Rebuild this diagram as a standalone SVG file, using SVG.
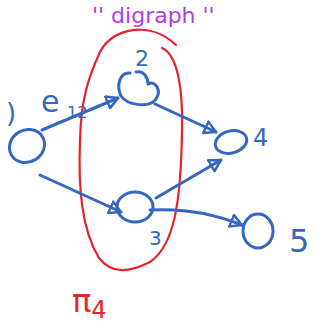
<svg xmlns="http://www.w3.org/2000/svg" width="327" height="328" viewBox="0 0 327 328">
<style>
.n{fill:none;stroke:#3566c2;stroke-width:3;stroke-linecap:round;stroke-linejoin:round}
.e{fill:none;stroke:#3566c2;stroke-width:3;stroke-linecap:round;marker-end:url(#ah)}
.b{fill:#3566c2;font-family:"DejaVu Sans",sans-serif}
</style>
<defs>
<marker id="ah" viewBox="0 0 12 12" refX="10" refY="6" markerWidth="5" markerHeight="5" orient="auto" markerUnits="strokeWidth">
<path d="M1,1 L10,6 L1,11 Z" fill="none" stroke="#3566c2" stroke-width="2" stroke-linejoin="round"/>
</marker>
</defs>
<rect width="327" height="328" fill="#fff"/>
<path d="M176,45 C150,20 112,28 100,52 C88,78 81,100 80,140 C78,190 82,230 99,258 C112,275 130,272 150,262 C175,245 181,200 182,130 C183,90 178,55 162,48" fill="none" stroke="#e8222a" stroke-width="2.2" stroke-linecap="round"/>
<g id="connectors">
<path class="e" d="M42,130 L118,98"/>
<path class="e" d="M155,104 L216,132"/>
<path class="e" d="M40,175 L121,212"/>
<path class="e" d="M156,198 L221,160"/>
<path class="e" d="M150,210 C185,208 215,214 242,225"/>
</g>
<g id="n1"><ellipse class="n" cx="27" cy="146" rx="18" ry="16" transform="rotate(-30 27 146)"/><text class="b" x="6" y="122" font-size="26">)</text></g>
<g id="n2"><path class="n" d="M130,73 C120,72 116,85 121,96 C128,106 150,108 156,99 C162,90 155,80 148,84 C148,78 144,70 136,72"/><text class="b" x="135" y="66" font-size="22">2</text></g>
<g id="e12"><text class="b" x="41" y="112" font-size="30">e</text><text class="b" x="67" y="118" font-size="16">12</text></g>
<g id="n4"><ellipse class="n" cx="231" cy="142" rx="16" ry="11" transform="rotate(-15 231 142)"/><text class="b" x="253" y="146" font-size="24">4</text></g>
<g id="n3"><ellipse class="n" cx="135" cy="207" rx="18" ry="15"/><text class="b" x="149" y="245" font-size="20">3</text></g>
<g id="n5"><ellipse class="n" cx="258" cy="231" rx="15" ry="17"/><text class="b" x="289" y="252" font-size="32">5</text></g>
<text x="92" y="23" font-family="DejaVu Sans,sans-serif" font-size="22" fill="#b03de6">'' digraph ''</text>
<text x="72" y="312" font-family="DejaVu Sans,sans-serif" font-size="32" fill="#e8222a">π<tspan font-size="24" dy="6">4</tspan></text>
</svg>
